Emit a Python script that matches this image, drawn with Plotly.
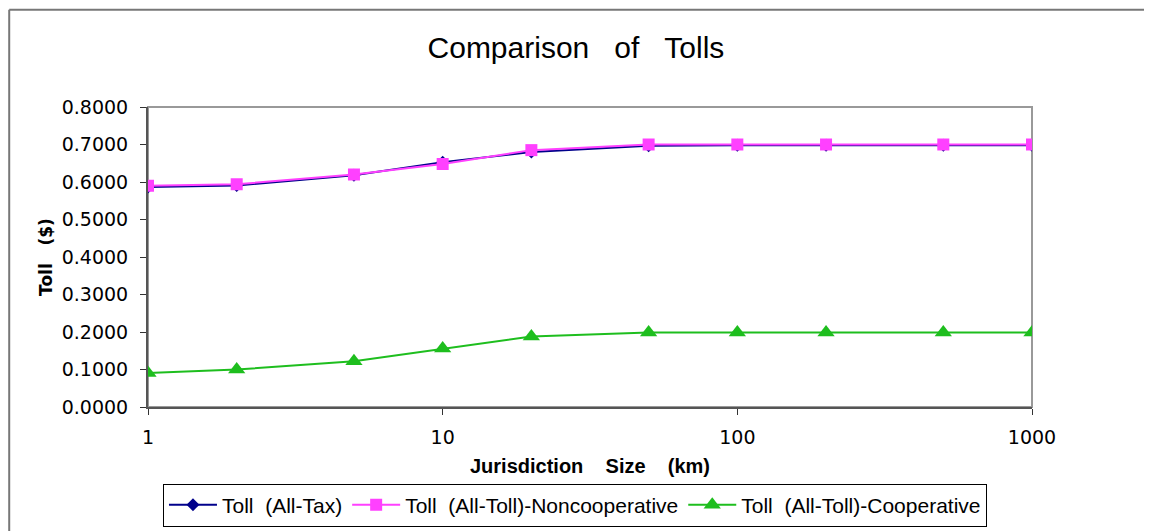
import plotly.graph_objects as go

sizes = [1, 2, 5, 10, 20, 50, 100, 200, 500, 1000]
toll_all_tax = [0.587, 0.591, 0.618, 0.653, 0.680, 0.697, 0.698, 0.698, 0.698, 0.698]
toll_noncoop = [0.590, 0.594, 0.620, 0.648, 0.685, 0.700, 0.700, 0.700, 0.700, 0.700]
toll_coop = [0.091, 0.100, 0.122, 0.156, 0.188, 0.199, 0.199, 0.199, 0.199, 0.199]

sp2 = "\u00a0\u00a0"
series_names = ["Toll" + sp2 + "(All-Tax)", "Toll" + sp2 + "(All-Toll)-Noncooperative",
                "Toll" + sp2 + "(All-Toll)-Cooperative"]
y_ticks = [0.0, 0.1, 0.2, 0.3, 0.4, 0.5, 0.6, 0.7, 0.8]
x_ticks = [1, 10, 100, 1000]

sans = "Liberation Sans, Arial, sans-serif"
sp3 = "\u00a0\u00a0\u00a0"
sp4 = "\u00a0\u00a0\u00a0\u00a0"

fig = go.Figure()
fig.add_trace(go.Scatter(x=sizes, y=toll_all_tax, name=series_names[0], mode="lines+markers",
                         line=dict(color="#00008B", width=2),
                         marker=dict(symbol="diamond", size=10, color="#00008B")))
fig.add_trace(go.Scatter(x=sizes, y=toll_noncoop, name=series_names[1], mode="lines+markers",
                         line=dict(color="#FF40FF", width=2),
                         marker=dict(symbol="square", size=12, color="#FF40FF")))
fig.add_trace(go.Scatter(x=sizes, y=toll_coop, name=series_names[2], mode="lines+markers",
                         line=dict(color="#1EBE1E", width=2),
                         marker=dict(symbol="triangle-up", size=15, color="#1EBE1E")))

fig.update_layout(
    width=1152, height=531,
    margin=dict(l=140, r=128, t=99, b=130),
    paper_bgcolor="white", plot_bgcolor="white",
    title=dict(text="Comparison" + sp3 + "of" + sp3 + "Tolls", x=0.493, xanchor="center",
               y=0.925, yanchor="middle",
               font=dict(family=sans, size=30, color="black")),
    xaxis=dict(type="log", range=[0, 3], tickvals=x_ticks, ticktext=[str(v) for v in x_ticks],
               ticks="outside", ticklen=6, tickcolor="#333", showgrid=False, zeroline=False,
               showline=True, linecolor="#555", linewidth=2, ticklabelstandoff=6,
               tickfont=dict(family="DejaVu Sans", size=19, color="black"),
               title=dict(text="<b>Jurisdiction" + sp4 + "Size" + sp4 + "(km)</b>",
                          font=dict(family=sans, size=20, color="black"), standoff=12)),
    yaxis=dict(range=[0, 0.8], tickvals=y_ticks, tickformat=".4f",
               ticks="outside", ticklen=6, tickcolor="#333", showgrid=False, zeroline=False,
               showline=True, linecolor="#555", linewidth=2, ticklabelstandoff=8,
               tickfont=dict(family="DejaVu Sans", size=19, color="black"),
               title=dict(text="<b>Toll" + sp3 + "($)</b>",
                          font=dict(family="DejaVu Sans", size=17, color="black"), standoff=5)),
    legend=dict(orientation="h", x=0.483, xanchor="center", y=-0.255, yanchor="top",
                bordercolor="black", borderwidth=1, bgcolor="white",
                font=dict(family=sans, size=21, color="black"),
                itemwidth=48, tracegroupgap=0),
    shapes=[
        dict(type="rect", xref="paper", yref="paper", x0=0, x1=1, y0=0, y1=1,
             line=dict(color="#999", width=2), layer="below"),
        dict(type="line", xref="paper", yref="paper", x0=-0.157, x1=1.2, y0=1.3245, y1=1.3245,
             line=dict(color="#777", width=2)),
        dict(type="line", xref="paper", yref="paper", x0=-0.157, x1=-0.157, y0=-0.45, y1=1.3245,
             line=dict(color="#777", width=2)),
    ],
    showlegend=True,
)

fig.write_html("out.html")
